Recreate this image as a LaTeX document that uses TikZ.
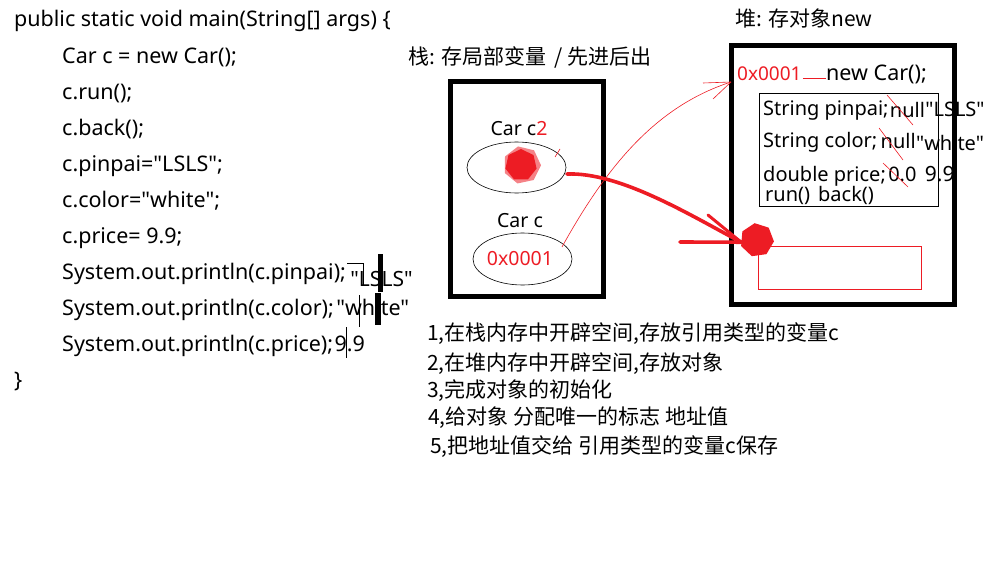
\documentclass[tikz,border=0pt]{standalone}
\usepackage{fontspec}
\setmainfont{Noto Sans}[Ligatures=TeXOff]
\newfontfamily\cjk{Noto Sans CJK SC}[Ligatures=TeXOff]
\usetikzlibrary{arrows.meta,positioning,shapes.geometric}
\definecolor{pred}{RGB}{237,28,36}
\begin{document}
\begin{tikzpicture}[x=1pt,y=-1pt,
  font=\fontsize{21.5}{23}\selectfont,
  t/.style={anchor=base west,inner sep=0pt},
  tc/.style={anchor=base,inner sep=0pt,font=\fontsize{19.5}{21}\selectfont},
  hs/.style={t,font=\fontsize{20}{21}\selectfont},
  zh/.style={t,font=\cjk\fontsize{21}{22}\selectfont},
  mem/.style={draw,line width=5pt,inner sep=0pt},
  oval/.style={draw,ellipse,line width=0.6pt,inner sep=0pt},
  blob/.style={regular polygon,regular polygon sides=7,fill=pred,draw=none,inner sep=0pt},
  ink/.style={draw=pred,line width=3.6pt,line cap=round,line join=round},
  pen/.style={draw=pred,line width=0.6pt},
  cur/.style={draw,line width=0.6pt}]
\useasboundingbox (0,0) rectangle (983,570);
\node[t] (l0) at (14,27) {public static void main(String[] args) \{};
\node[t] (l1) at (62,63) {Car c = new Car();};
\node[t] (l2) at (62,99) {c.run();};
\node[t] (l3) at (62,135) {c.back();};
\node[t] (l4) at (62,171) {c.pinpai="LSLS";};
\node[t] (l5) at (62,207) {c.color="white";};
\node[t] (l6) at (62,243) {c.price= 9.9;};
\node[t] (l7) at (62,279) {System.out.println(c.pinpai);};
\node[t] (l8) at (62,315) {System.out.println(c.color);};
\node[t] (l9) at (62,351) {System.out.println(c.price);};
\node[t] (l10) at (14,387) {\}};
\node[t,font=\fontsize{21}{22}\selectfont] (o1) at ([xshift=4pt,yshift=-7pt]l7.base east) {"LSLS"};
\node[t] (o2) at ([xshift=2pt]l8.base east) {"white"};
\node[t] (o3) at ([xshift=1pt]l9.base east) {9.9};
\draw[cur] (347,263) -- (363,263) -- (363,286);
\fill (378,254) rectangle (383,292);
\fill (375,293) rectangle (381,325);
\draw[cur] (359,295) -- (359,327);
\draw[cur] (346,327) -- (346,358);
\node[zh] (stacklbl) at (408,64) {栈: 存局部变量\hspace{8pt}/ 先进后出};
\node[zh] (heaplbl) at (735,26) {堆: 存对象new};
\node[mem,minimum width=153pt,minimum height=215.5pt] (stack) at (527,188.75) {};
\node[mem,minimum width=223pt,minimum height=259pt] (heap) at (843,175) {};
\node[draw,line width=0.8pt,minimum width=179pt,minimum height=113pt,inner sep=0pt] (obj) at (848.5,149.5) {};
\node[draw=pred,line width=0.8pt,minimum width=163pt,minimum height=43pt,inner sep=0pt] (slot) at (839.5,267.5) {};
\node[tc] (c2) at (519,135) {Car c\textcolor{pred}{2}};
\node[oval,minimum width=99pt,minimum height=51pt] (e1) at (516.5,167.5) {};
\node[blob,fill opacity=0.55,minimum size=38pt,rotate=12] at (522,165) {};
\node[blob,minimum size=32pt] (b1) at (521,165) {};
\draw[pen] (555,157) -- (560,149);
\node[tc] (c1) at (520,227) {Car c};
\node[oval,minimum width=99pt,minimum height=52pt] (e2) at (522.5,259) {};
\node[tc,text=pred] (addr) at (520,265) {0x0001};
\node[t,text=pred,font=\fontsize{19}{20}\selectfont] (haddr) at (737,80) {0x0001};
\node[t] (newcar) at (826,80) {new Car();};
\draw[pen,line width=0.8pt] (haddr.east) ++(1pt,-5pt) coordinate (h1) -- (h1 -| newcar.west);
\node[hs] (f1) at (763,115) {String pinpai;};
\node[hs] (v1) at ([xshift=1pt,yshift=-2pt]f1.base east) {null};
\node[hs] (n1) at ([yshift=1pt]v1.base east) {"LSLS"};
\node[hs] (f2) at (763,147) {String color;};
\node[hs] (v2) at ([xshift=3pt,yshift=-1pt]f2.base east) {null};
\node[hs] (n2) at ([yshift=-2pt]v2.base east) {"white"};
\node[hs] (f3) at (763,181) {double price;};
\node[hs] (v3) at ([xshift=2pt]f3.base east) {0.0};
\node[hs,font=\fontsize{21}{22}\selectfont] (n3) at ([xshift=8pt]v3.base east) {9.9};
\node[hs] (m1) at (765,201) {run()\hspace{8pt}back()};
\draw[pen] (887,95) -- (913,125);
\draw[pen] (879,128) -- (903,160);
\draw[pen] (883,163) -- (908,187);
\node[blob,minimum size=34pt,rotate=8] (b2) at (757,240) {};
\coordinate (tip) at (731,82);
\coordinate (from) at (562,247);
\draw[pen] (from) .. controls (610,160) and (660,105) .. (tip);
\draw[pen] (tip) -- (703,83);
\draw[pen] (tip) -- (713,99);
\coordinate (s) at (567,174);
\draw[ink] (s) .. controls (620,172) and (690,215) .. (b2.west);
\draw[ink,line width=3pt] (708,215) -- (b2.west);
\draw[ink] (680,242) -- (b2.west);
\node[zh] (s1) at (427,340) {1,在栈内存中开辟空间,存放引用类型的变量c};
\node[zh] (s2) at (427,370) {2,在堆内存中开辟空间,存放对象};
\node[zh] (s3) at (427,397) {3,完成对象的初始化};
\node[zh] (s4) at (428,424) {4,给对象 分配唯一的标志 地址值};
\node[zh] (s5) at (430,453) {5,把地址值交给 引用类型的变量c保存};
\end{tikzpicture}
\end{document}
